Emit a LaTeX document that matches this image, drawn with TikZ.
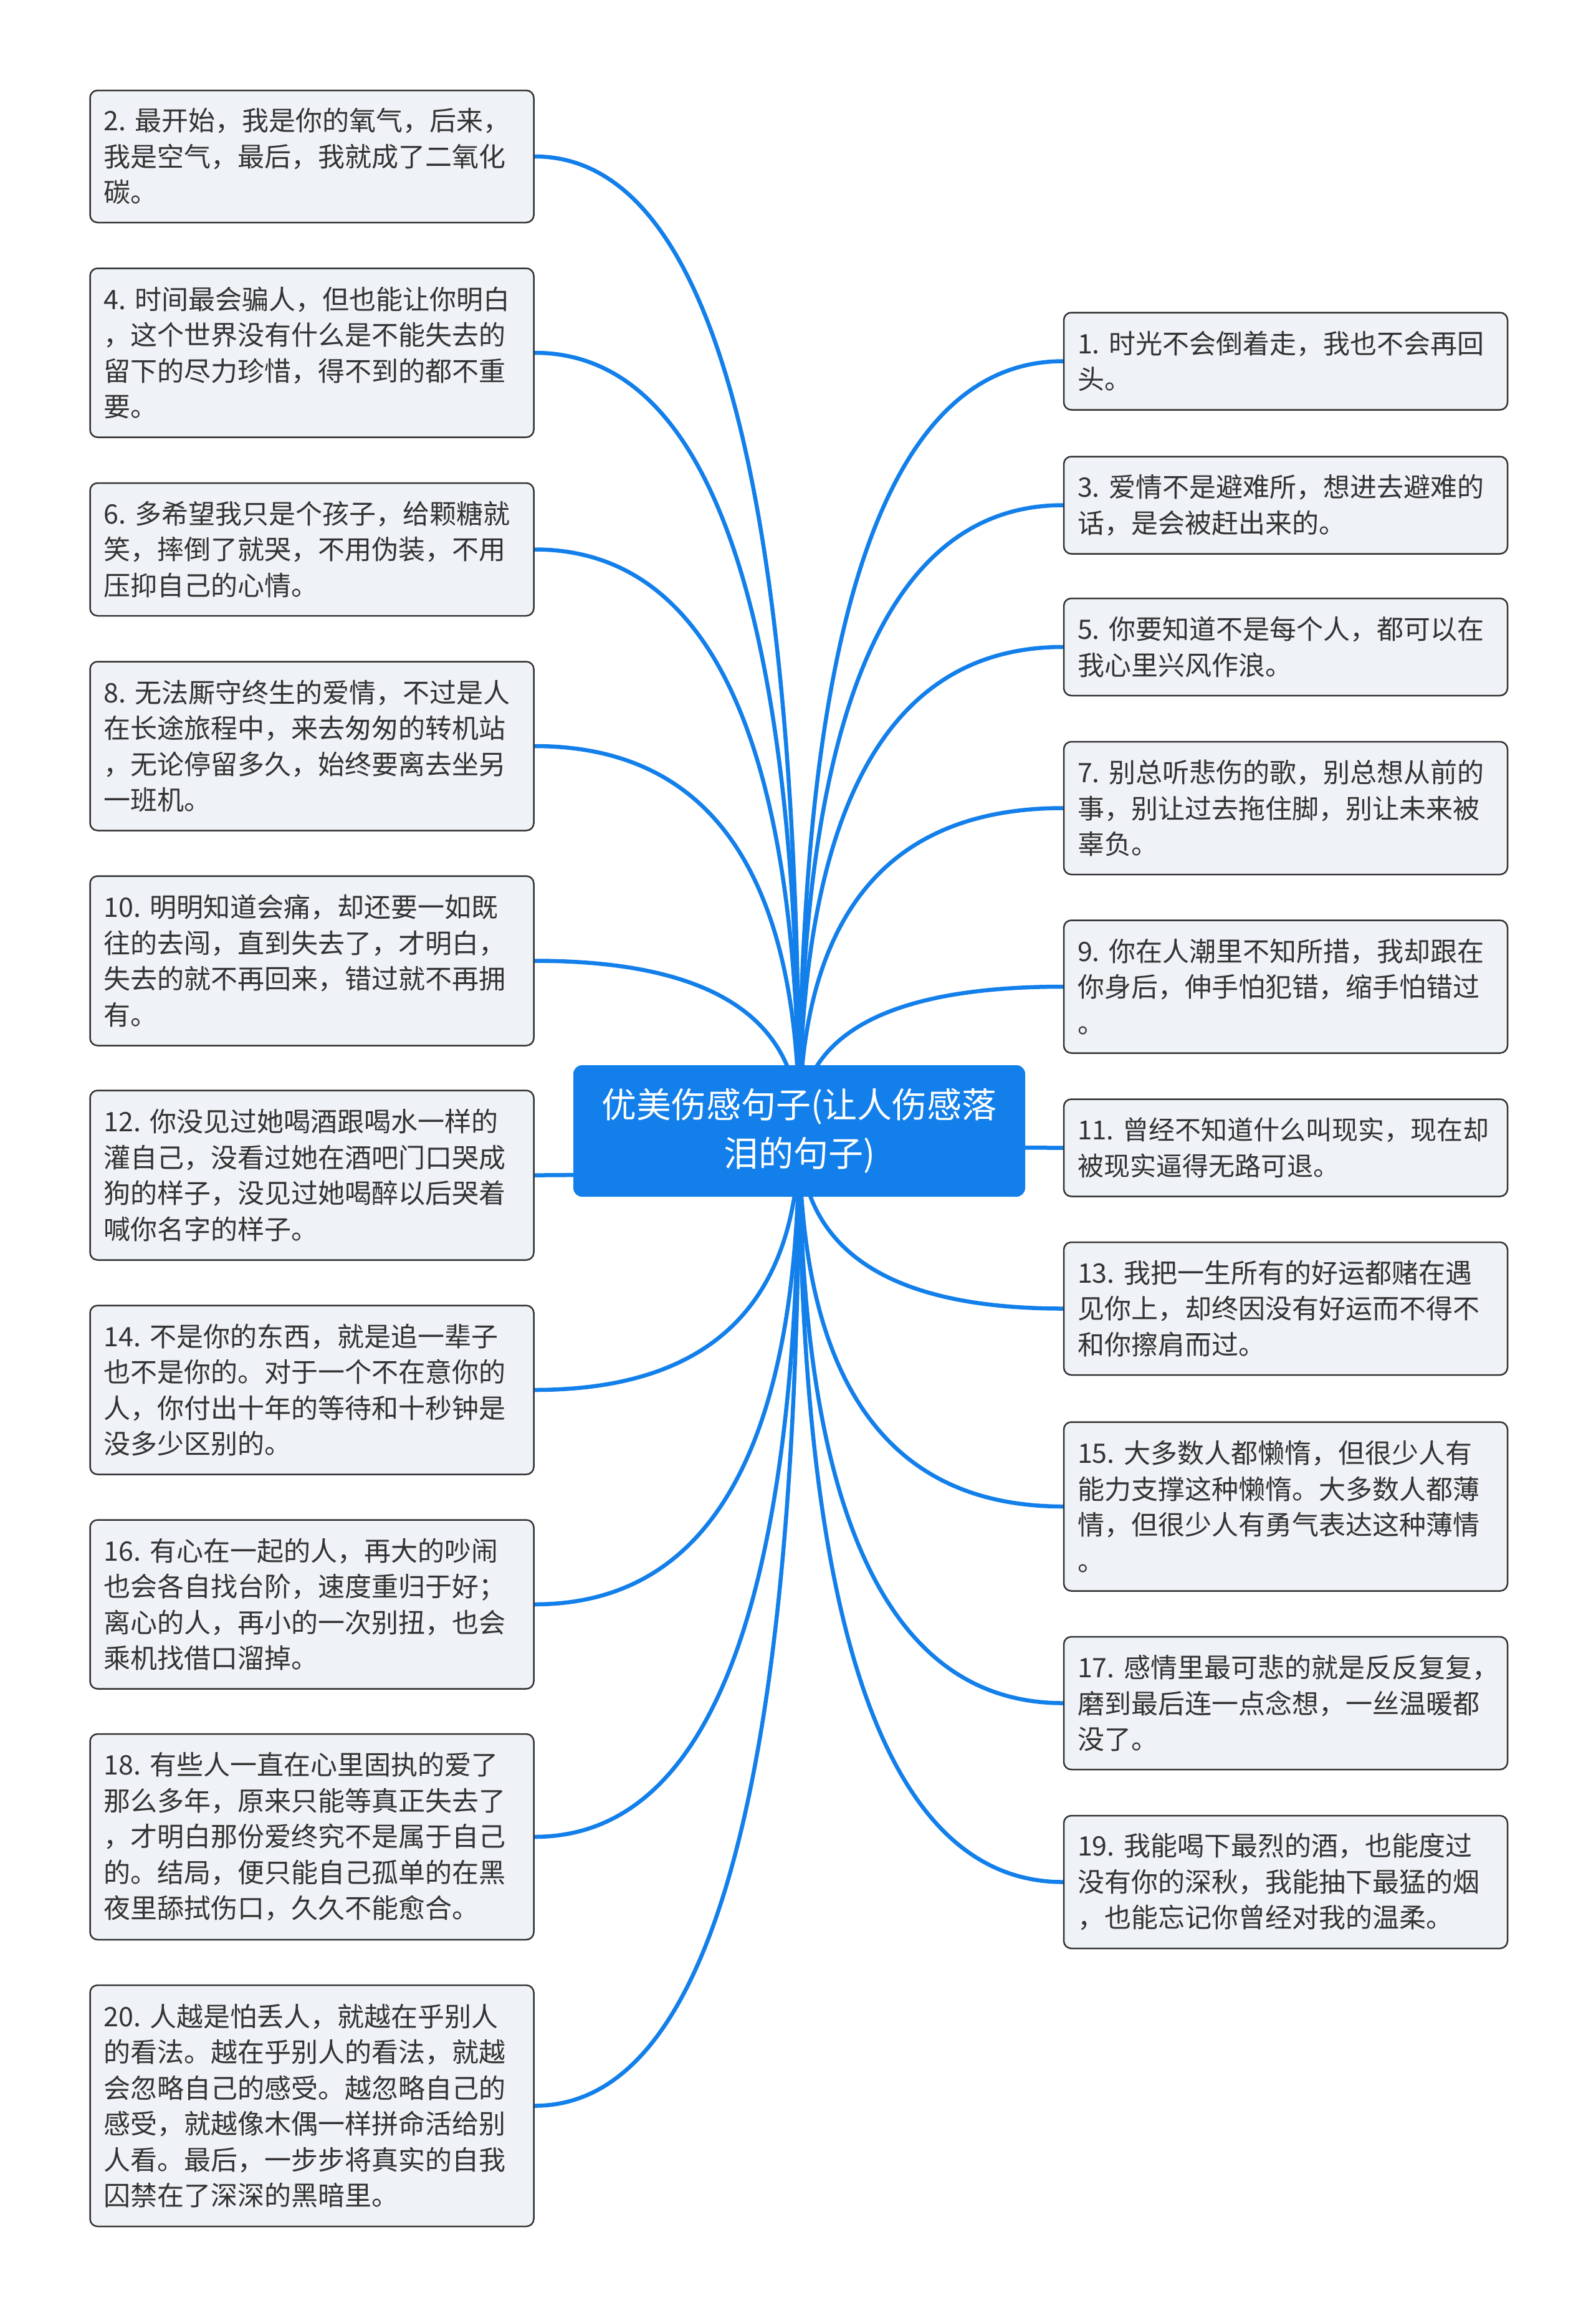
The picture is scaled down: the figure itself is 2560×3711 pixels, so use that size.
\documentclass[tikz,border=0pt]{standalone}
\usepackage{fontspec}
\setmainfont{Noto Sans CJK SC}
\usetikzlibrary{calc,backgrounds}
\definecolor{mapblue}{RGB}{18,127,234}
\definecolor{boxfill}{RGB}{239,242,246}
\definecolor{boxline}{RGB}{51,51,51}
\definecolor{txt}{RGB}{51,51,51}
\tikzset{
  leaf/.style={draw=boxline, fill=boxfill, line width=2.5pt, rounded corners=12pt,
    inner xsep=22pt, inner ysep=0pt, text width=668pt, align=left,
    minimum height=#1, text=txt, font=\fontsize{43pt}{57.5pt}\selectfont},
  root/.style={fill=mapblue, rounded corners=14pt, inner sep=0pt,
    minimum width=725pt, minimum height=211pt, align=center, text=white,
    font=\fontsize{56pt}{78pt}\selectfont},
  conn/.style={draw=mapblue, line width=6.5pt}
}
\newcommand\linkto[2]{\draw[conn] (#1.#2) .. controls ($(#1.#2)!0.6667!(#1.#2 -| hub)$) and ($(hub)!0.6667!(#1.#2 -| hub)$) .. (hub);}
\begin{document}
\begin{tikzpicture}[x=1pt,y=-1pt]
\useasboundingbox (0,0) rectangle (2560,3711);
\coordinate (hub) at (1282.5,1814.5);
\node[root] (c) at (hub) {优美伤感句子(让人伤感落\\泪的句子)};
% left column
\node[leaf=212pt] (b2) at (500.5,251) {2.~最开始，我是你的氧气，后来，\\我是空气，最后，我就成了二氧化\\碳。};
\node[leaf=271pt] (b4) at (500.5,566) {4.~时间最会骗人，但也能让你明白\\，这个世界没有什么是不能失去的\\留下的尽力珍惜，得不到的都不重\\要。};
\node[leaf=213pt] (b6) at (500.5,881.5) {6.~多希望我只是个孩子，给颗糖就\\笑，摔倒了就哭，不用伪装，不用\\压抑自己的心情。};
\node[leaf=271pt] (b8) at (500.5,1197) {8.~无法厮守终生的爱情，不过是人\\在长途旅程中，来去匆匆的转机站\\，无论停留多久，始终要离去坐另\\一班机。};
\node[leaf=272pt] (b10) at (500.5,1541.5) {10.~明明知道会痛，却还要一如既\\往的去闯，直到失去了，才明白，\\失去的就不再回来，错过就不再拥\\有。};
\node[leaf=272pt] (b12) at (500.5,1885.5) {12.~你没见过她喝酒跟喝水一样的\\灌自己，没看过她在酒吧门口哭成\\狗的样子，没见过她喝醉以后哭着\\喊你名字的样子。};
\node[leaf=271pt] (b14) at (500.5,2230) {14.~不是你的东西，就是追一辈子\\也不是你的。对于一个不在意你的\\人，你付出十年的等待和十秒钟是\\没多少区别的。};
\node[leaf=271pt] (b16) at (500.5,2574) {16.~有心在一起的人，再大的吵闹\\也会各自找台阶，速度重归于好；\\离心的人，再小的一次别扭，也会\\乘机找借口溜掉。};
\node[leaf=330pt] (b18) at (500.5,2947) {18.~有些人一直在心里固执的爱了\\那么多年，原来只能等真正失去了\\，才明白那份爱终究不是属于自己\\的。结局，便只能自己孤单的在黑\\夜里舔拭伤口，久久不能愈合。};
\node[leaf=387pt] (b20) at (500.5,3378.5) {20.~人越是怕丢人，就越在乎别人\\的看法。越在乎别人的看法，就越\\会忽略自己的感受。越忽略自己的\\感受，就越像木偶一样拼命活给别\\人看。最后，一步步将真实的自我\\囚禁在了深深的黑暗里。};
% right column
\node[leaf=156pt] (b1) at (2063,579.5) {1.~时光不会倒着走，我也不会再回\\头。};
\node[leaf=156pt] (b3) at (2063,810.5) {3.~爱情不是避难所，想进去避难的\\话，是会被赶出来的。};
\node[leaf=156pt] (b5) at (2063,1038) {5.~你要知道不是每个人，都可以在\\我心里兴风作浪。};
\node[leaf=213pt] (b7) at (2063,1296.5) {7.~别总听悲伤的歌，别总想从前的\\事，别让过去拖住脚，别让未来被\\辜负。};
\node[leaf=213pt] (b9) at (2063,1583) {9.~你在人潮里不知所措，我却跟在\\你身后，伸手怕犯错，缩手怕错过\\。};
\node[leaf=156pt, font=\fontsize{42pt}{57.5pt}\selectfont] (b11) at (2063,1841.5) {11.~曾经不知道什么叫现实，现在却\\被现实逼得无路可退。};
\node[leaf=213pt] (b13) at (2063,2099.5) {13.~我把一生所有的好运都赌在遇\\见你上，却终因没有好运而不得不\\和你擦肩而过。};
\node[leaf=271pt] (b15) at (2063,2417) {15.~大多数人都懒惰，但很少人有\\能力支撑这种懒惰。大多数人都薄\\情，但很少人有勇气表达这种薄情\\。};
\node[leaf=213pt] (b17) at (2063,2732.5) {17.~感情里最可悲的就是反反复复，\\磨到最后连一点念想，一丝温暖都\\没了。};
\node[leaf=213pt] (b19) at (2063,3019.5) {19.~我能喝下最烈的酒，也能度过\\没有你的深秋，我能抽下最猛的烟\\，也能忘记你曾经对我的温柔。};
\begin{scope}[on background layer]
\fill[white] (0,0) rectangle (2560,3711);
\foreach \n in {b2,b4,b6,b8,b10,b12,b14,b16,b18,b20} {\linkto{\n}{east}}
\foreach \n in {b1,b3,b5,b7,b9,b11,b13,b15,b17,b19} {\linkto{\n}{west}}
\end{scope}
\end{tikzpicture}
\end{document}
